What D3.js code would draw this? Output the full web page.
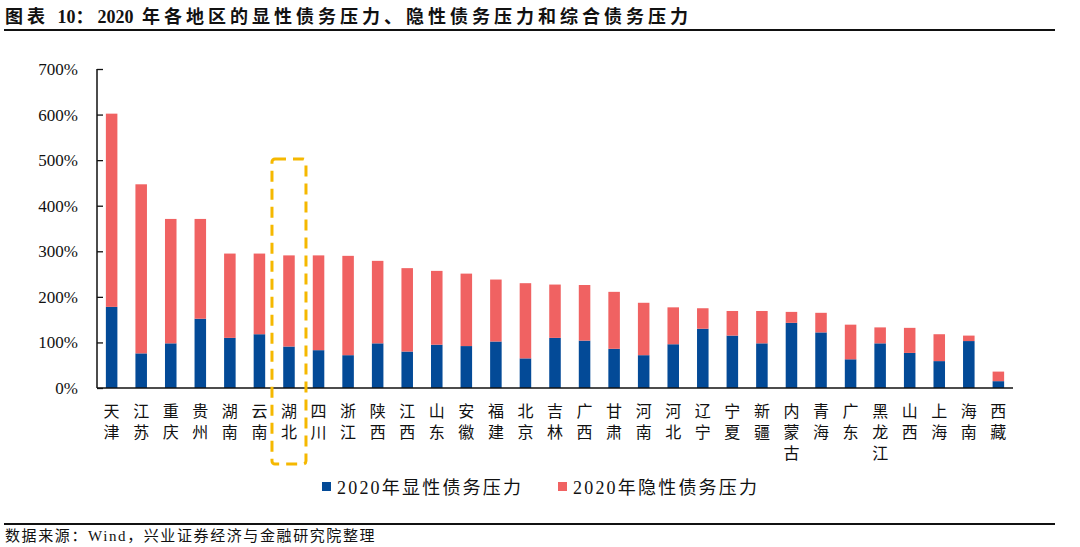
<!DOCTYPE html>
<html>
<head>
<meta charset="utf-8">
<script src="https://cdn.jsdelivr.net/npm/d3@7"></script>
<style>
  body { margin: 0; background: #fff; }
  svg { display: block; }
  text { font-family: "Liberation Serif", "Noto Sans CJK SC", serif; fill: #111; }
</style>
</head>
<body>
<svg id="grafico" width="1080" height="547"></svg>
<script>
// dados
const regioes = ["天津","江苏","重庆","贵州","湖南","云南","湖北","四川","浙江","陕西","江西","山东","安徽","福建","北京","吉林","广西","甘肃","河南","河北","辽宁","宁夏","新疆","内蒙古","青海","广东","黑龙江","山西","上海","海南","西藏"];
const total = [602,447,371,371,295,295,291,291,290,279,263,257,251,238,230,227,226,211,187,177,175,169,169,167,165,139,133,132,118,115,36];
const explicita = [178,76,98,152,110,118,91,83,72,98,80,95,92,102,65,110,104,86,72,96,130,115,98,143,122,63,98,77,59,103,15];
const implicita = total.map((t, i) => t - explicita[i]);
const ticks_y = [0,100,200,300,400,500,600,700];
const series = ["2020年显性债务压力", "2020年隐性债务压力"];
const cores = ["#034a97", "#f06262"];
const destaque = "湖北";

const svg = d3.select("#grafico");
const margem = { esq: 97, dir: 1013, topo: 69, base: 388 };

const x = d3.scaleBand().domain(regioes).range([margem.esq, margem.dir]).paddingInner(0.61).paddingOuter(0.3);
const y = d3.scaleLinear().domain([0, 700]).range([margem.base, margem.topo]);

// titulo (espaçamento só nos caracteres chineses)
const titulo = svg.append("text").attr("x", 5).attr("y", 23)
  .attr("font-size", 18).attr("font-weight", "bold");
[["图表 ", 4], ["10", 0], ["：", 4], ["2020", 0], [" 年各地区的显性债务压力、隐性债务压力和综合债务压力", 4]]
  .forEach(([txt, esp]) => titulo.append("tspan").attr("letter-spacing", esp).text(txt));
svg.append("line").attr("x1", 4).attr("x2", 1055).attr("y1", 30).attr("y2", 30)
  .attr("stroke", "#111").attr("stroke-width", 2);

// barras empilhadas
const dados = regioes.map((r, i) => ({ regiao: r, exp: explicita[i], imp: implicita[i] }));
const pilha = d3.stack().keys(["exp", "imp"])(dados);

svg.append("g").selectAll("g")
  .data(pilha)
  .enter().append("g")
  .attr("fill", (d, i) => cores[i])
  .selectAll("rect")
  .data(d => d)
  .enter().append("rect")
  .attr("x", d => x(d.data.regiao))
  .attr("width", x.bandwidth())
  .attr("y", d => y(d[1]))
  .attr("height", d => y(d[0]) - y(d[1]));

// eixo y
const eixo_y = svg.append("g").attr("transform", `translate(${margem.esq},0)`)
  .call(d3.axisRight(y).tickValues(ticks_y).tickSize(6).tickFormat(""));
eixo_y.select(".domain").attr("stroke", "#111").attr("stroke-width", 1.5).attr("d", `M0,${margem.base}V${margem.topo}`);
eixo_y.selectAll(".tick line").attr("stroke", "#111").attr("stroke-width", 1.3);

svg.append("g").selectAll("text")
  .data(ticks_y)
  .enter().append("text")
  .attr("x", 78).attr("y", d => y(d) + 6)
  .attr("text-anchor", "end").attr("font-size", 17)
  .text(d => d + "%");

// eixo x
svg.append("line").attr("x1", margem.esq).attr("x2", margem.dir)
  .attr("y1", margem.base).attr("y2", margem.base)
  .attr("stroke", "#111").attr("stroke-width", 1.5);

svg.append("g").selectAll("text")
  .data(regioes)
  .enter().append("text")
  .attr("font-size", 16)
  .attr("text-anchor", "middle")
  .attr("font-family", "Noto Sans CJK SC")
  .each(function(d) {
    const t = d3.select(this);
    d.split("").forEach((c, k) => {
      t.append("tspan").attr("x", x(d) + x.bandwidth() / 2).attr("y", 417 + k * 21).text(c);
    });
  });

// destaque tracejado
const cx = x(destaque) + x.bandwidth() / 2;
svg.append("rect")
  .attr("x", cx - 17).attr("y", 159).attr("width", 34).attr("height", 305)
  .attr("rx", 3)
  .attr("fill", "none").attr("stroke", "#f5b800").attr("stroke-width", 3)
  .attr("stroke-dasharray", "11,7");

// legenda
const legenda_x = [322, 558];
series.forEach((s, i) => {
  svg.append("rect").attr("x", legenda_x[i]).attr("y", 482).attr("width", 9).attr("height", 9).attr("fill", cores[i]);
  svg.append("text").attr("x", legenda_x[i] + 15).attr("y", 494)
    .attr("font-size", 18).attr("letter-spacing", 2.2).text(s);
});

// fonte
svg.append("line").attr("x1", 4).attr("x2", 1055).attr("y1", 524).attr("y2", 524)
  .attr("stroke", "#111").attr("stroke-width", 2);
svg.append("text").attr("x", 5).attr("y", 541).attr("font-size", 15).attr("letter-spacing", 1.6)
  .text("数据来源：Wind，兴业证券经济与金融研究院整理");
</script>
</body>
</html>
